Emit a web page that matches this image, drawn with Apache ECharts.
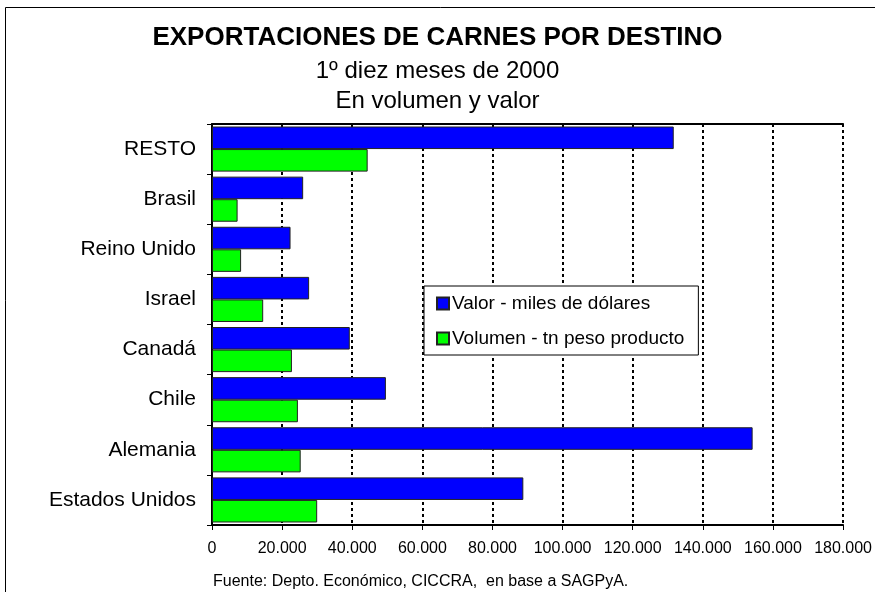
<!DOCTYPE html>
<html>
<head>
<meta charset="utf-8">
<script src="https://cdn.jsdelivr.net/npm/echarts@6/dist/echarts.min.js"></script>
<style>
  html, body { margin: 0; padding: 0; background: #fff; }
  #chart { width: 875px; height: 592px; }
</style>
</head>
<body>
<div id="chart"></div>
<script>
// categories bottom -> top (echarts draws category axis from the bottom)
const destinos = ["Estados Unidos", "Alemania", "Chile", "Canadá", "Israel", "Reino Unido", "Brasil", "RESTO"];
const valor = [88800, 154200, 49600, 39300, 27700, 22400, 26000, 131700];
const volumen = [30000, 25300, 24500, 22800, 14600, 8300, 7300, 44400];
const xTicks = [0, 20000, 40000, 60000, 80000, 100000, 120000, 140000, 160000, 180000];

const font = "Arial, 'Liberation Sans', sans-serif";
const fmt = (v) => String(v).replace(/\B(?=(\d{3})+(?!\d))/g, ".");

const chart = echarts.init(document.getElementById("chart"));

const options = {
  backgroundColor: "#fff",
  animation: false,
  title: [
    {
      text: "EXPORTACIONES DE CARNES POR DESTINO",
      left: "center",
      top: 20,
      textStyle: { fontFamily: font, fontSize: 26, fontWeight: "bold", color: "#000" },
    },
    {
      text: "1º diez meses de 2000",
      left: "center",
      top: 54,
      textStyle: { fontFamily: font, fontSize: 24, fontWeight: "normal", color: "#000" },
    },
    {
      text: "En volumen y valor",
      left: "center",
      top: 84,
      textStyle: { fontFamily: font, fontSize: 24, fontWeight: "normal", color: "#000" },
    },
    {
      text: "Fuente: Depto. Económico, CICCRA,  en base a SAGPyA.",
      left: 208,
      top: 569,
      textStyle: { fontFamily: font, fontSize: 16, fontWeight: "normal", color: "#000" },
    },
  ],
  legend: {
    data: ["Valor - miles de dólares", "Volumen - tn peso producto"],
    orient: "vertical",
    left: 424,
    top: 286,
    padding: [8, 14, 7, 12],
    itemGap: 16,
    itemWidth: 12,
    itemHeight: 12,
    icon: "rect",
    backgroundColor: "#fff",
    borderColor: "#000",
    borderWidth: 1,
    borderRadius: 0,
    textStyle: { fontFamily: font, fontSize: 19, color: "#000", padding: [0, 0, 0, -2] },
  },
  grid: { left: 212, right: 27, top: 124, bottom: 67, containLabel: false },
  xAxis: [
    {
      type: "value",
      min: 0,
      max: 180000,
      interval: 20000,
      axisLine: { show: true, lineStyle: { color: "#000", width: 2 } },
      axisTick: { show: true, length: 5, lineStyle: { color: "#000" } },
      axisLabel: {
        fontFamily: font,
        fontSize: 16,
        color: "#000",
        margin: 16,
        formatter: (v) => (xTicks.includes(v) ? fmt(v) : ""),
      },
      splitLine: { show: true, lineStyle: { color: "#000", type: [3, 3], width: 2 } },
    },
    {
      type: "value",
      position: "top",
      min: 0,
      max: 180000,
      axisLine: { show: true, onZero: false, lineStyle: { color: "#000", width: 2 } },
      axisTick: { show: false },
      axisLabel: { show: false },
      splitLine: { show: false },
    },
  ],
  yAxis: {
    type: "category",
    data: destinos,
    axisLine: { show: true, lineStyle: { color: "#000", width: 2 } },
    axisTick: { show: true, length: 5, lineStyle: { color: "#000" } },
    axisLabel: { fontFamily: font, fontSize: 21, color: "#000", margin: 16 },
  },
  series: [
    {
      name: "Valor - miles de dólares",
      type: "bar",
      data: valor,
      barGap: "0%",
      barCategoryGap: "10%",
      itemStyle: { color: "#0000ff", borderColor: "#222", borderWidth: 1 },
    },
    {
      name: "Volumen - tn peso producto",
      type: "bar",
      data: volumen,
      barGap: "0%",
      barCategoryGap: "10%",
      itemStyle: { color: "#00ff00", borderColor: "#222", borderWidth: 1 },
    },
  ],
  graphic: [
    {
      type: "rect",
      shape: { x: 5.5, y: 7.5, width: 900, height: 700 },
      style: { fill: null, stroke: "#000", lineWidth: 1 },
      silent: true,
    },
  ],
};

chart.setOption(options);
window.addEventListener("resize", () => chart.resize());
</script>
</body>
</html>
